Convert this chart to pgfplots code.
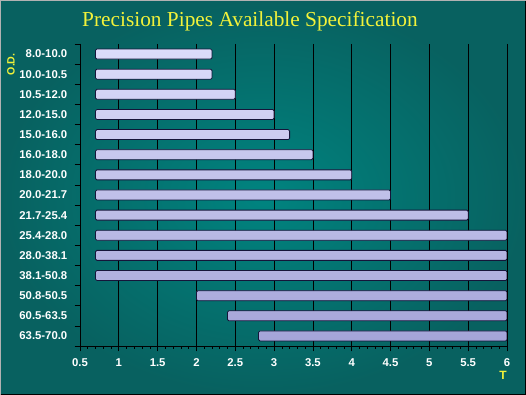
\documentclass[border=0pt]{standalone}
\usepackage{pgfplots}
\usepackage{pgfplotstable}
\pgfplotsset{compat=1.18}
\usepackage{fontspec}
\setmainfont{Liberation Serif}
\setsansfont{Liberation Sans}
\newfontfamily\arialb{Liberation Sans}
\definecolor{bgin}{HTML}{008480}
\definecolor{bgout}{HTML}{0B5252}
\definecolor{bartop}{HTML}{DCDCFA}
\definecolor{barbot}{HTML}{A4A4D8}
\definecolor{baredge}{HTML}{15153A}
\definecolor{ttl}{HTML}{F2F23A}
\pgfplotstableread{
start end
0.7 2.2
0.7 2.2
0.7 2.5
0.7 3.0
0.7 3.2
0.7 3.5
0.7 4.0
0.7 4.5
0.7 5.5
0.7 6.0
0.7 6.0
0.7 6.0
2.0 6.0
2.4 6.0
2.8 6.0
}\pipes
\begin{document}
\begin{tikzpicture}
\path[use as bounding box] (0pt,0pt) rectangle (394.5pt,296.25pt);
\shade[inner color=bgin, outer color=bgout!70!bgin] (0pt,0pt) rectangle (394.5pt,296.25pt);
\draw[gray!60, line width=1.1pt] (0.55pt,0pt) -- (0.55pt,295.7pt) -- (394.5pt,295.7pt);
\draw[black, line width=1.1pt] (0.55pt,0.55pt) -- (393.95pt,0.55pt) -- (393.95pt,295.7pt);
\node[text=ttl, font=\fontsize{16}{18}\selectfont] at (187.5pt,280.5pt) {Precision Pipes Available Specification};
\begin{axis}[
  at={(60pt,36.75pt)}, anchor=south west,
  scale only axis, width=320.25pt, height=226.5pt,
  xmin=0.5, xmax=6, ymin=-0.5, ymax=14.5,
  y dir=reverse,
  axis x line*=bottom, axis y line*=left,
  axis line style={black, line width=0.6pt},
  xtick={0.5,1,...,6},
  minor x tick num=4,
  xmajorgrids, major grid style={black, line width=0.6pt},
  tick align=outside, major tick length=4pt, minor tick length=2pt,
  tick style={black, line width=0.5pt},
  ytick={-0.5,0.5,...,14.5},
  y tick label as interval,
  yticklabels={8.0-10.0,10.0-10.5,10.5-12.0,12.0-15.0,15.0-16.0,16.0-18.0,18.0-20.0,20.0-21.7,21.7-25.4,25.4-28.0,28.0-38.1,38.1-50.8,50.8-50.5,60.5-63.5,63.5-70.0},
  ticklabel style={text=white, font=\arialb\bfseries\fontsize{8.5}{10}\selectfont},
  /pgf/number format/assume math mode=true,
  xticklabel style={yshift=-2pt},
  yticklabel style={xshift=-2pt},
  xbar stacked, bar width=7.5pt,
  clip=true,
]
\addplot[draw=none, fill=none] table[x=start, y expr=\coordindex] {\pipes};
\addplot[draw=baredge, line width=0.6pt, top color=bartop, bottom color=barbot, shading angle=0, rounded corners=1pt]
  table[x expr=\thisrow{end}-\thisrow{start}, y expr=\coordindex] {\pipes};
\end{axis}
\node[text=ttl, rotate=90, font=\arialb\bfseries\fontsize{8}{10}\selectfont] at (8.25pt,248pt) {O.D.};
\node[text=ttl, font=\arialb\bfseries\fontsize{9}{10}\selectfont] at (377.25pt,15pt) {T};
\end{tikzpicture}
\end{document}
